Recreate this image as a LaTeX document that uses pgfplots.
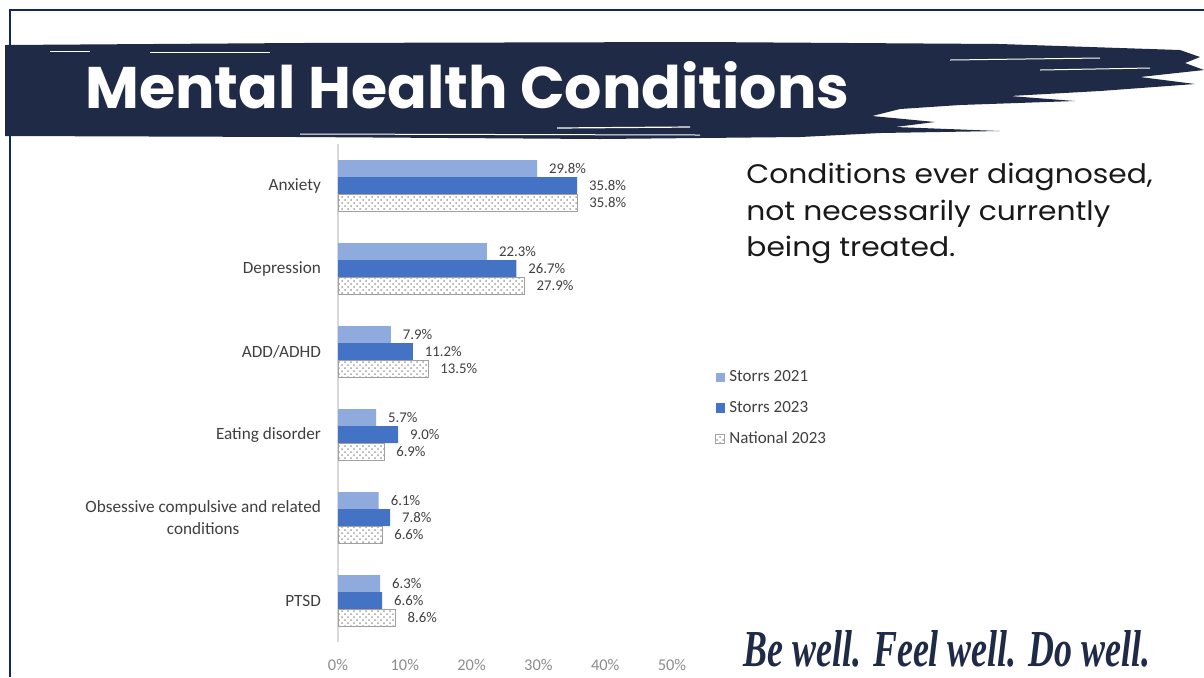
\documentclass[border=0pt]{standalone}
\usepackage{pgfplots}
\pgfplotsset{compat=1.18}
\usetikzlibrary{patterns}
\usepackage{fontspec}
\setmainfont{Carlito}
\newfontfamily\poppins{Poppins}
\newfontfamily\tagfont{Liberation Serif}
\definecolor{navy}{HTML}{1F2A47}
\definecolor{framec}{HTML}{0F2667}
\definecolor{lb}{HTML}{8FAADC}
\definecolor{db}{HTML}{4472C4}
\definecolor{txt}{HTML}{404040}
\definecolor{tickgray}{HTML}{8C8C8C}
\definecolor{axisgray}{HTML}{D9D9D9}
\definecolor{natgray}{HTML}{A0A0A0}
\pgfplotsset{mylegend/.style={legend image code/.code={\path[##1] (0pt,-2.3pt) rectangle (4.6pt,2.3pt);}}}
\begin{document}
\begin{tikzpicture}[x=0.5pt,y=-0.5pt]
\useasboundingbox (0,0) rectangle (1204,677);
\fill[white] (0,0) rectangle (1204,677);
\draw[framec, line width=1pt] (10,677) -- (10,10) -- (1204,10);
% banner
\fill[navy] (5,45) -- (300,43) -- (700,42) -- (1000,44) -- (1180,50) -- (1200,57) -- (1185,63) -- (1204,70)
  -- (1140,77) -- (1195,84) -- (1100,91) -- (1010,96) -- (1075,101) -- (960,105) -- (900,109) -- (872,116)
  -- (935,122) -- (895,127) -- (1000,131) -- (880,133) -- (800,137) -- (600,139) -- (300,137) -- (5,136) -- cycle;
\draw[white, line width=0.6pt] (557,128) -- (690,127);
\draw[white, line width=0.4pt] (50,51) -- (90,51);
\draw[white, line width=0.4pt] (150,52) -- (270,52);
\draw[white, line width=0.5pt] (300,134) -- (700,135);
\draw[white, line width=0.5pt] (950,60) -- (1100,58);
\draw[white, line width=0.5pt] (1040,70) -- (1150,68);
\node[anchor=base west, inner sep=0, text=white] at (85,108)
  {\resizebox{382pt}{!}{\poppins\bfseries Mental Health Conditions}};
% side text
\begin{scope}[every node/.style={anchor=base west, inner sep=0, text=black!90,
  font=\poppins\fontsize{13.4}{16}\selectfont}]
\node at (746,183) {\scalebox{1.11}[1]{Conditions ever diagnosed,}};
\node at (746,220) {\scalebox{1.11}[1]{not necessarily currently}};
\node at (746,256) {\scalebox{1.11}[1]{being treated.}};
\end{scope}
% tagline
\node[anchor=base west, inner sep=0, text=navy] at (743,666)
  {\resizebox{203.5pt}{18pt}{\tagfont\bfseries\itshape Be well. Feel well. Do well.}};
\begin{axis}[
  at={(169pt,-321pt)}, anchor=south west,
  scale only axis, width=167pt, height=249pt,
  xbar, bar width=8.5pt,
  /pgf/number format/assume math mode=true,
  xmin=0, xmax=50, ymin=-0.5, ymax=5.5,
  xtick={0,10,...,50},
  xticklabel={\pgfmathprintnumber{\tick}\%},
  ytick={0,...,5},
  yticklabels={PTSD,{Obsessive compulsive and related\\conditions},Eating disorder,ADD/ADHD,Depression,Anxiety},
  yticklabel style={align=center, font=\fontsize{8.6}{11}\selectfont, text=txt, xshift=-5pt},
  xticklabel style={font=\fontsize{8.2}{10}\selectfont, text=tickgray, yshift=-5.3pt},
  axis x line*=bottom, x axis line style={draw=none},
  axis y line*=left, y axis line style={draw=axisgray, line width=0.6pt, -},
  major tick length=0pt,
  nodes near coords={\pgfmathprintnumber[fixed,fixed zerofill,precision=1]{\pgfplotspointmeta}\%},
  nodes near coords style={font=\fontsize{7.4}{9}\selectfont, text=txt, xshift=2.5pt},
  legend style={at={(1.11,0.469)}, anchor=west, draw=none, fill=none,
    font=\fontsize{8.5}{10}\selectfont, text=txt, row sep=4.2pt},
  legend cell align=left,
]
\addplot[fill=lb, draw=none, bar shift=8.5pt, mylegend] coordinates {(29.8,5) (22.3,4) (7.9,3) (5.7,2) (6.1,1) (6.3,0)};
\addplot[fill=db, draw=none, bar shift=0pt, mylegend] coordinates {(35.8,5) (26.7,4) (11.2,3) (9.0,2) (7.8,1) (6.6,0)};
\addplot[draw=natgray, line width=0.5pt, pattern=crosshatch dots, pattern color=natgray, bar shift=-8.5pt, mylegend] coordinates {(35.8,5) (27.9,4) (13.5,3) (6.9,2) (6.6,1) (8.6,0)};
\legend{Storrs 2021,Storrs 2023,National 2023}
\end{axis}
\end{tikzpicture}
\end{document}
